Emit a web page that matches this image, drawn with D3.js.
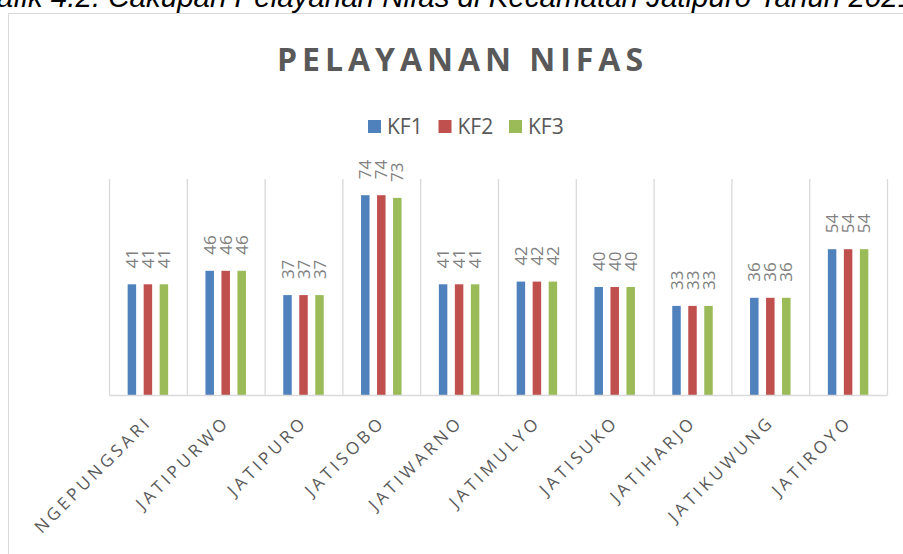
<!DOCTYPE html>
<html>
<head>
<meta charset="utf-8">
<script src="https://cdnjs.cloudflare.com/ajax/libs/d3/7.8.5/d3.min.js"></script>
<style>
  body { margin: 0; background: #fff; }
  svg { display: block; }
</style>
</head>
<body>
<div id="chart"></div>
<script>
// data
var categories = ["NGEPUNGSARI", "JATIPURWO", "JATIPURO", "JATISOBO", "JATIWARNO",
  "JATIMULYO", "JATISUKO", "JATIHARJO", "JATIKUWUNG", "JATIROYO"];
var seriesNames = ["KF1", "KF2", "KF3"];
var kf1 = [41, 46, 37, 74, 41, 42, 40, 33, 36, 54];
var kf2 = [41, 46, 37, 74, 41, 42, 40, 33, 36, 54];
var kf3 = [41, 46, 37, 73, 41, 42, 40, 33, 36, 54];
var colors = ["#4f81bd", "#c0504d", "#9bbb59"];

var svgWidth = 903;
var svgHeight = 554;

var margin = {
  top: 179,
  right: 16,
  bottom: 159,
  left: 109
};

var width = svgWidth - margin.left - margin.right;
var height = svgHeight - margin.top - margin.bottom;

var svg = d3.select("#chart")
  .append("svg")
  .attr("width", svgWidth)
  .attr("height", svgHeight);

// caption, cut off at the top and sides of the page like in the source
svg.append("text")
  .attr("x", -36)
  .attr("y", 7)
  .attr("text-anchor", "start")
  .style("font-family", "'Liberation Sans', Arial, sans-serif")
  .style("font-style", "italic")
  .style("font-size", "29.5px")
  .style("fill", "#000")
  .text("Grafik 4.2. Cakupan Pelayanan Nifas di Kecamatan Jatipuro Tahun 2021");

// chart area border (right side runs off the page)
svg.append("rect")
  .attr("x", 8.5)
  .attr("y", 13.5)
  .attr("width", 910)
  .attr("height", 600)
  .attr("fill", "#fff")
  .attr("stroke", "#d9d9d9")
  .attr("stroke-width", 1);

// title
svg.append("text")
  .attr("x", 460)
  .attr("y", 71)
  .attr("text-anchor", "middle")
  .attr("textLength", 366)
  .attr("lengthAdjust", "spacing")
  .style("font-family", "'Open Sans', sans-serif")
  .style("font-weight", "700")
  .style("font-size", "32px")
  .style("fill", "#595959")
  .text("PELAYANAN NIFAS");

// legend
var legend = svg.append("g");
seriesNames.forEach(function(name, i) {
  var lx = 368 + i * 70.5;
  legend.append("rect")
    .attr("x", lx)
    .attr("y", 120)
    .attr("width", 13)
    .attr("height", 13)
    .attr("fill", colors[i]);
  legend.append("text")
    .attr("x", lx + 19)
    .attr("y", 134)
    .style("font-family", "'Open Sans', sans-serif")
    .style("font-size", "21px")
    .style("fill", "#595959")
    .text(name);
});

var chartGroup = svg.append("g")
  .attr("transform", `translate(${margin.left}, ${margin.top})`);

// scales
var xScale = d3.scaleBand()
  .domain(categories)
  .range([0, width])
  .padding(0);

var xSub = d3.scaleBand()
  .domain(seriesNames)
  .range([xScale.bandwidth() / 2 - 24, xScale.bandwidth() / 2 + 24])
  .paddingInner(0.47)
  .paddingOuter(0.235);

var yScale = d3.scaleLinear()
  .domain([0, 80])
  .range([height, 0]);

// vertical separators between categories
var bounds = categories.map(d => xScale(d)).concat([width]);
chartGroup.selectAll(".sep")
  .data(bounds)
  .enter()
  .append("line")
  .attr("x1", d => d + 0.5)
  .attr("x2", d => d + 0.5)
  .attr("y1", 0)
  .attr("y2", height)
  .attr("stroke", "#d9d9d9")
  .attr("stroke-width", 1.3);

// bars
var allSeries = [kf1, kf2, kf3];
var rows = [];
categories.forEach(function(cat, i) {
  allSeries.forEach(function(vals, j) {
    rows.push({ cat: cat, series: seriesNames[j], value: vals[i], color: colors[j] });
  });
});

chartGroup.selectAll(".bar")
  .data(rows)
  .enter()
  .append("rect")
  .attr("x", d => xScale(d.cat) + xSub(d.series))
  .attr("y", d => yScale(d.value))
  .attr("width", xSub.bandwidth())
  .attr("height", d => height - yScale(d.value))
  .attr("fill", d => d.color);

// value labels, rotated
chartGroup.selectAll(".lbl")
  .data(rows)
  .enter()
  .append("text")
  .attr("transform", function(d) {
    var cx = xScale(d.cat) + xSub(d.series) + xSub.bandwidth() / 2 + 6;
    var cy = yScale(d.value) - 16;
    return `translate(${cx}, ${cy}) rotate(-90)`;
  })
  .style("font-family", "'Open Sans', sans-serif")
  .style("font-size", "17px")
  .style("fill", "#808080")
  .text(d => d.value);

// x axis
var bottomAxis = d3.axisBottom(xScale).tickSize(0).tickPadding(0);
var xAxis = chartGroup.append("g")
  .attr("transform", `translate(0, ${height})`)
  .call(bottomAxis);

xAxis.select(".domain")
  .attr("stroke", "#d9d9d9")
  .attr("stroke-width", 1.5);

xAxis.selectAll(".tick text")
  .attr("text-anchor", "end")
  .attr("x", 0)
  .attr("y", 0)
  .attr("dy", 0)
  .attr("transform", "translate(5, 28) rotate(-45)")
  .style("font-family", "'Open Sans', sans-serif")
  .style("font-size", "17px")
  .style("letter-spacing", "3.6px")
  .style("fill", "#595959");
</script>
</body>
</html>
